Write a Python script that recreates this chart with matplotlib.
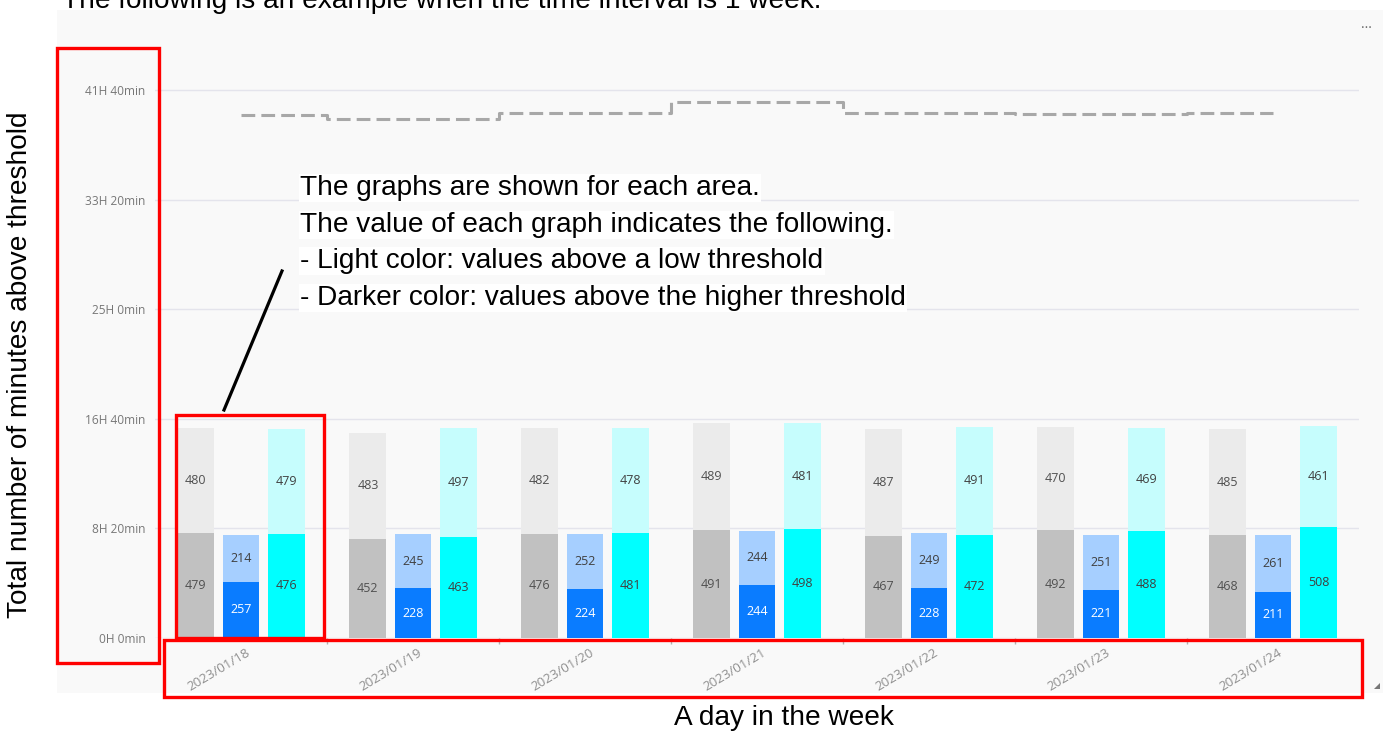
import matplotlib
matplotlib.use("Agg")
import matplotlib.pyplot as plt
from matplotlib.patches import Rectangle, Polygon
from matplotlib.lines import Line2D
from matplotlib.transforms import ScaledTranslation

# ---------------- data ----------------
dates = ["2023/01/18", "2023/01/19", "2023/01/20", "2023/01/21",
         "2023/01/22", "2023/01/23", "2023/01/24"]
gray_high = [479, 452, 476, 491, 467, 492, 468]
gray_low = [480, 483, 482, 489, 487, 470, 485]
blue_high = [257, 228, 224, 244, 228, 221, 211]
blue_low = [214, 245, 252, 244, 249, 251, 261]
cyan_high = [476, 463, 481, 498, 472, 488, 508]
cyan_low = [479, 497, 478, 481, 491, 469, 461]
total_line = [2385, 2368, 2393, 2447, 2394, 2391, 2394]
ytick_vals = [0, 500, 1000, 1500, 2000, 2500]

annotation_lines = [
    "The graphs are shown for each area.",
    "The value of each graph indicates the following.",
    "- Light color: values above a low threshold",
    "- Darker color: values above the higher threshold",
]
top_text = "The following is an example when the time interval is 1 week."
ylabel_text = "Total number of minutes above threshold"
xlabel_text = "A day in the week"

# ---------------- figure ----------------
W, H = 1386, 734
fig = plt.figure(figsize=(W / 100, H / 100), dpi=100)
fig.patch.set_facecolor("white")


def fx(px):
    return px / W


def fy(py):
    return 1 - py / H


ANN_FONT = ["Liberation Sans", "DejaVu Sans"]
UI_FONT = ["Open Sans", "DejaVu Sans"]

# Power BI panel background
fig.add_artist(Rectangle((fx(57), fy(693)), fx(1383) - fx(57), fy(10) - fy(693),
                         transform=fig.transFigure, facecolor="#f9f9f9",
                         edgecolor="none", zorder=0))

ax_left, ax_right, ax_zero, ax_top = 155, 1359, 638, 46
px_per_min = 0.2192
ax = fig.add_axes([fx(ax_left), fy(ax_zero), fx(ax_right) - fx(ax_left),
                   (ax_zero - ax_top) / H])
ax.set_facecolor("none")
ax.set_xlim(-0.5, len(dates) - 0.5)
ax.set_ylim(0, (ax_zero - ax_top) / px_per_min)
for s in ax.spines.values():
    s.set_visible(False)

ax.set_axisbelow(True)
ax.yaxis.grid(True, color="#e4e4ec", lw=1.0)
ax.set_yticks(ytick_vals)
ax.set_yticklabels([f"{v // 60}H {v % 60}min" for v in ytick_vals],
                   fontfamily=UI_FONT, fontsize=8.6, color="#777777")
ax.tick_params(axis="y", length=0, pad=7)

x = list(range(len(dates)))
ax.set_xticks(x)
ax.set_xticklabels([])
ax.tick_params(axis="x", which="major", length=0)
ax.set_xticks([i + 0.5 for i in range(len(dates) - 1)], minor=True)
ax.tick_params(axis="x", which="minor", length=4, color="#b0b0b0", width=1)

off = ScaledTranslation(0.05, -0.08, fig.dpi_scale_trans)
for i, d in enumerate(dates):
    ax.text(i, 0, d, transform=ax.get_xaxis_transform() + off,
            rotation=31, rotation_mode="anchor", ha="right", va="top",
            fontfamily=UI_FONT, fontsize=9.6, color="#8f8f8f")

bw = 0.215
groups = [
    (-0.262, gray_high, gray_low, "#c1c1c1", "#ebebeb", "#505050", "#505050"),
    (0.0, blue_high, blue_low, "#0a7cff", "#a6cfff", "white", "#404040"),
    (0.267, cyan_high, cyan_low, "#00ffff", "#c6fdfd", "#404040", "#404040"),
]
for offs, hi, lo, c_hi, c_lo, t_hi, t_lo in groups:
    xs = [i + offs for i in x]
    ax.bar(xs, hi, width=bw, color=c_hi, zorder=2)
    ax.bar(xs, lo, width=bw, bottom=hi, color=c_lo, zorder=2)
    for xi, h, l in zip(xs, hi, lo):
        ax.text(xi, h / 2, str(h), ha="center", va="center", fontsize=9,
                fontfamily=UI_FONT, color=t_hi, zorder=3)
        ax.text(xi, h + l / 2, str(l), ha="center", va="center", fontsize=9,
                fontfamily=UI_FONT, color=t_lo, zorder=3)

ax.plot(x, total_line, drawstyle="steps-mid", color="#a8a8a8", lw=2.2,
        dashes=(4.5, 2.0), zorder=2)

# ---------------- annotations ----------------
baselines = [195, 232, 268, 305]
for line, b in zip(annotation_lines, baselines):
    fig.text(fx(300), fy(b), line, ha="left", va="baseline",
             fontfamily=ANN_FONT, fontsize=20.2, color="black", zorder=5,
             bbox=dict(facecolor="white", edgecolor="none", pad=1))

fig.add_artist(Line2D([fx(224), fx(282)], [fy(410), fy(271)],
                      transform=fig.transFigure, color="black", lw=2.3, zorder=6))

fig.text(fx(62), fy(8), top_text, ha="left", va="baseline",
         fontfamily=ANN_FONT, fontsize=20.2, color="black")
fig.text(fx(20), fy(365), ylabel_text, rotation=90, ha="center", va="center",
         fontfamily=ANN_FONT, fontsize=20.2, color="black")
fig.text(fx(784), fy(718), xlabel_text, ha="center", va="center",
         fontfamily=ANN_FONT, fontsize=20.2, color="black")

fig.text(fx(1366), fy(28), "···", ha="center", va="center",
         fontfamily=UI_FONT, fontsize=10, color="#666666")
fig.add_artist(Polygon([[fx(1380), fy(683)], [fx(1380), fy(689)], [fx(1374), fy(689)]],
                       closed=True, transform=fig.transFigure,
                       facecolor="#777777", edgecolor="none"))

# red highlight boxes
for (x0, y0, x1, y1) in [(57, 48, 159, 663), (176, 415, 324, 638), (164, 640, 1362, 697)]:
    fig.add_artist(Rectangle((fx(x0), fy(y1)), fx(x1) - fx(x0), fy(y0) - fy(y1),
                             transform=fig.transFigure, fill=False,
                             edgecolor="#ff0000", lw=2.4, zorder=10))

fig.savefig("out.png", dpi=100)
